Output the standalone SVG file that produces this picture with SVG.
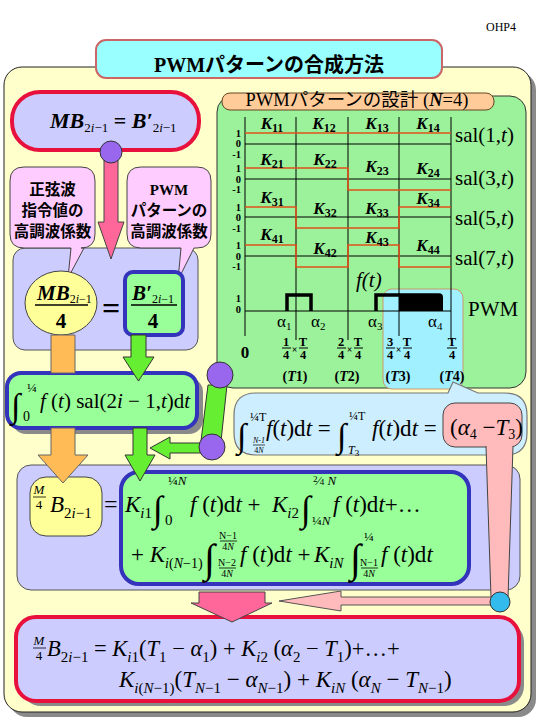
<svg xmlns="http://www.w3.org/2000/svg" width="540" height="720" viewBox="0 0 540 720">
<defs>
<style>
text { font-family: "Liberation Serif", "Noto Sans CJK JP", serif; fill:#000; }
.jp { font-family: "Noto Sans CJK JP", sans-serif; font-weight: bold; font-size: 15.5px; text-anchor: middle; }
.k { font-size: 17px; font-weight: bold; font-style: italic; text-anchor: middle; }
.ks { font-size: 12px; font-style: normal; }
.ax { font-size: 10.5px; font-weight: bold; text-anchor: end; }
.sal { font-size: 21px; }
.b { font-weight: bold; }
.it { font-style: italic; }
.u { font-style: normal; }
.m { font-size: 23px; font-style: italic; }
.int { font-size: 36px; font-style: normal; }
.sm { font-size: 10px; font-style: normal; text-anchor: middle; }
.fr { font-size: 12.5px; font-weight: bold; text-anchor: middle; }
.gl { stroke:#000; stroke-width:1; fill:none; }
.wv { stroke:#E0501A; stroke-width:1.6; fill:none; }
.shadow { fill:#8a8a8a; }
.lav { fill:#CCCCFF; stroke:#555; stroke-width:1; }
.pinkc { fill:#FFCCFF; stroke:#444; stroke-width:1; }
.bluebox { fill:#99FF99; stroke:#3333BB; stroke-width:4; }
.redbox { fill:#CCCCFF; stroke:#E8103C; stroke-width:4; }
.grn { fill:#66EE33; stroke:#333; stroke-width:1; }
.org { fill:#FFBB55; stroke:#666; stroke-width:1; }
.pur { fill:#9966EE; stroke:#333; stroke-width:1; }
</style>
</defs>

<g id="outer-panel">
  <rect class="shadow" x="9" y="72" width="527" height="645" rx="18"/>
  <rect x="4" y="67" width="527" height="645" rx="18" fill="#FFFFCC" stroke="#222" stroke-width="1"/>
</g>

<g id="title">
  <rect x="96" y="40" width="346" height="38" rx="10" fill="#99FFFF" stroke="#CC6666" stroke-width="2"/>
  <text x="269" y="72" font-size="20" font-weight="bold" text-anchor="middle">PWMパターンの合成方法</text>
</g>

<text id="page-label" x="486" y="31" font-size="12">OHP4</text>

<g id="top-equation">
  <rect class="redbox" x="12" y="92" width="187" height="58" rx="28"/>
  <text x="50" y="128" font-size="22" class="b it">MB<tspan font-size="13" font-weight="normal" class="u" dy="4">2<tspan class="it">i</tspan>−1</tspan><tspan dy="-4" class="u"> = </tspan>B′<tspan font-size="13" font-weight="normal" class="u" dy="4">2<tspan class="it">i</tspan>−1</tspan></text>
</g>

<g id="coef-panel">
  <rect class="lav" x="13" y="248" width="185" height="102" rx="12"/>
</g>

<g id="callout-sine">
  <path class="pinkc" d="M24,167 H81 Q95,167 95,181 V234 Q95,248 81,248 H84 L68,278 L71,248 H24 Q10,248 10,234 V181 Q10,167 24,167 Z"/>
  <text class="jp" x="52.5" y="195">正弦波</text>
  <text class="jp" x="52.5" y="216">指令値の</text>
  <text class="jp" x="52.5" y="237">高調波係数</text>
</g>

<g id="callout-pwm">
  <path class="pinkc" d="M141,167 H197 Q211,167 211,181 V234 Q211,248 197,248 H194 L178,280 L181,248 H141 Q127,248 127,234 V181 Q127,167 141,167 Z"/>
  <text x="169" y="195" font-size="15" font-weight="bold" text-anchor="middle">PWM</text>
  <text class="jp" x="169" y="216">パターンの</text>
  <text class="jp" x="169" y="237">高調波係数</text>
</g>

<g id="sine-coef">
  <ellipse cx="61" cy="303" rx="36" ry="32" fill="#FFFF99" stroke="#444" stroke-width="1"/>
  <text x="37" y="300" font-size="21" class="b it">MB<tspan font-size="12" font-weight="normal" class="u" dy="3">2<tspan class="it">i</tspan>−1</tspan></text>
  <line x1="35" y1="305" x2="88" y2="305" stroke="#000" stroke-width="1.5"/>
  <text x="61" y="328" font-size="21" font-weight="bold" text-anchor="middle">4</text>
</g>

<text id="equals" x="111" y="319" font-size="32" font-weight="bold" text-anchor="middle">=</text>

<g id="pwm-coef">
  <rect class="bluebox" x="125" y="272" width="58" height="63" rx="8"/>
  <text x="132" y="300" font-size="21" class="b it">B′<tspan font-size="12" font-weight="normal" class="u" dy="3">2<tspan class="it">i</tspan>−1</tspan></text>
  <line x1="131" y1="305" x2="177" y2="305" stroke="#000" stroke-width="1.5"/>
  <text x="153" y="328" font-size="21" font-weight="bold" text-anchor="middle">4</text>
</g>

<g id="pwm-design">
  <rect x="217" y="96" width="309" height="292" rx="16" fill="#9BF29B" stroke="#333" stroke-width="1"/>
  <rect x="222" y="93" width="272" height="17" rx="8" fill="#FFCC99" stroke="#664422" stroke-width="1"/>
  <text x="357" y="106" font-size="18.5" text-anchor="middle">PWMパターンの設計 (<tspan class="b it">N</tspan>=4)</text>
  <rect x="383" y="289" width="80" height="100" rx="9" fill="#A0F0FF" stroke="#CC9966" stroke-width="1"/>
  <path class="gl" d="M245,117 V336 M296,117 V340 M348,117 V340 M399,117 V336 M451,117 V340"/>
  <path class="gl" d="M245,144 H451 M245,179 H451 M245,217 H451 M245,256 H451 M245,311 H451"/>
  <path class="wv" d="M245,133 H451"/>
  <path class="wv" d="M245,168 H348 V190 H451"/>
  <path class="wv" d="M245,207 H296 V228 H399 V207 H451"/>
  <path class="wv" d="M245,245 H296 V267 H348 V245 H399 V267 H451"/>
  <path d="M287,311 V295 H311 V311" stroke="#000" stroke-width="3.5" fill="none"/>
  <path d="M376,311 V295 H400" stroke="#000" stroke-width="3.5" fill="none"/>
  <path d="M399,293.3 H439 Q443,293.3 443,297.3 V311 H399 Z" fill="#000"/>
  <g class="ax">
    <text x="241" y="136.5">1</text><text x="241" y="147">0</text><text x="241" y="157.5">-1</text>
    <text x="241" y="172">1</text><text x="241" y="182.5">0</text><text x="241" y="193">-1</text>
    <text x="241" y="210.5">1</text><text x="241" y="221">0</text><text x="241" y="231.5">-1</text>
    <text x="241" y="249">1</text><text x="241" y="259.5">0</text><text x="241" y="270">-1</text>
    <text x="241" y="302">1</text><text x="241" y="313">0</text>
  </g>
  <text class="k" x="272" y="129">K<tspan class="ks" dy="3">11</tspan></text>
  <text class="k" x="324" y="129">K<tspan class="ks" dy="3">12</tspan></text>
  <text class="k" x="377" y="129">K<tspan class="ks" dy="3">13</tspan></text>
  <text class="k" x="428" y="129">K<tspan class="ks" dy="3">14</tspan></text>
  <text class="k" x="272" y="165">K<tspan class="ks" dy="3">21</tspan></text>
  <text class="k" x="325" y="165">K<tspan class="ks" dy="3">22</tspan></text>
  <text class="k" x="377" y="172">K<tspan class="ks" dy="3">23</tspan></text>
  <text class="k" x="428" y="174">K<tspan class="ks" dy="3">24</tspan></text>
  <text class="k" x="272" y="203">K<tspan class="ks" dy="3">31</tspan></text>
  <text class="k" x="325" y="214">K<tspan class="ks" dy="3">32</tspan></text>
  <text class="k" x="377" y="214">K<tspan class="ks" dy="3">33</tspan></text>
  <text class="k" x="428" y="204">K<tspan class="ks" dy="3">34</tspan></text>
  <text class="k" x="272" y="240">K<tspan class="ks" dy="3">41</tspan></text>
  <text class="k" x="325" y="254">K<tspan class="ks" dy="3">42</tspan></text>
  <text class="k" x="377" y="243">K<tspan class="ks" dy="3">43</tspan></text>
  <text class="k" x="428" y="251">K<tspan class="ks" dy="3">44</tspan></text>
  <text class="sal" x="455" y="142">sal(1,<tspan class="it">t</tspan>)</text>
  <text class="sal" x="455" y="185">sal(3,<tspan class="it">t</tspan>)</text>
  <text class="sal" x="455" y="225">sal(5,<tspan class="it">t</tspan>)</text>
  <text class="sal" x="455" y="265">sal(7,<tspan class="it">t</tspan>)</text>
  <text x="356" y="287" font-size="21" class="it">f(t)</text>
  <text x="468" y="316" font-size="21">PWM</text>
  <text x="277" y="327" font-size="17">α<tspan font-size="11" dy="3">1</tspan></text>
  <text x="311" y="327" font-size="17">α<tspan font-size="11" dy="3">2</tspan></text>
  <text x="368" y="327" font-size="17">α<tspan font-size="11" dy="3">3</tspan></text>
  <text x="428" y="327" font-size="17">α<tspan font-size="11" dy="3">4</tspan></text>
  <text x="245" y="358" font-size="17" font-weight="bold" text-anchor="middle">0</text>
  <g class="fr">
    <text x="286" y="346">1</text><text x="286" y="359">4</text><text x="294.5" y="353" font-size="10">×</text><text x="303" y="346">T</text><text x="303" y="359">4</text>
    <text x="341" y="346">2</text><text x="341" y="359">4</text><text x="349.5" y="353" font-size="10">×</text><text x="358" y="346">T</text><text x="358" y="359">4</text>
    <text x="390" y="346">3</text><text x="390" y="359">4</text><text x="398.5" y="353" font-size="10">×</text><text x="407" y="346">T</text><text x="407" y="359">4</text>
    <text x="452" y="346">T</text><text x="452" y="359">4</text>
  </g>
  <path d="M282,348 H291 M299,348 H308 M337,348 H346 M354,348 H363 M386,348 H395 M403,348 H412 M447,348 H457" stroke="#000" stroke-width="1"/>
  <g font-size="14" font-weight="bold" text-anchor="middle">
    <text x="295" y="381">(<tspan class="it">T</tspan>1)</text>
    <text x="347" y="381">(<tspan class="it">T</tspan>2)</text>
    <text x="398" y="381">(<tspan class="it">T</tspan>3)</text>
    <text x="452" y="381">(<tspan class="it">T</tspan>4)</text>
  </g>
</g>

<g id="integral-callout">
  <path d="M256,393 H448 L453,382 L478,393 H505 Q527,393 527,415 V433 Q527,455 505,455 H256 Q234,455 234,433 V415 Q234,393 256,393 Z" fill="#CCEEFF" stroke="#777" stroke-width="1.2"/>
  <text class="int" x="237" y="447" style="font-size:34px">∫</text>
  <text x="250" y="421" font-size="12">¼T</text>
  <text class="sm" x="259" y="443" style="font-size:8px;font-style:italic">N-1</text>
  <line x1="253" y1="445" x2="265" y2="445" stroke="#000" stroke-width="0.7"/>
  <text class="sm" x="259" y="453" style="font-size:8px">4<tspan class="it">N</tspan></text>
  <text class="m" x="266" y="436">f<tspan class="u">(</tspan>t<tspan class="u">)d</tspan>t<tspan class="u"> =</tspan></text>
  <text class="int" x="337" y="447" style="font-size:34px">∫</text>
  <text x="349" y="420" font-size="12">¼T</text>
  <text x="348" y="454" font-size="12" class="it">T<tspan font-size="9" class="u" dy="2">3</tspan></text>
  <text class="m" x="372" y="436">f<tspan class="u">(</tspan>t<tspan class="u">)d</tspan>t<tspan class="u"> =</tspan></text>
</g>

<g id="difference">
  <rect x="443" y="403" width="79" height="44" rx="12" fill="#FFBBBB" stroke="#444" stroke-width="1"/>
  <text x="450" y="435" font-size="23"><tspan>(</tspan><tspan class="it">α</tspan><tspan font-size="14" dy="4">4</tspan><tspan dy="-4"> −</tspan><tspan class="it">T</tspan><tspan font-size="14" dy="4">3</tspan><tspan dy="-4">)</tspan></text>
</g>

<g id="expansion-panel">
  <rect class="lav" x="17" y="465" width="503" height="125" rx="14"/>
</g>

<g id="lhs">
  <rect x="30" y="477" width="72" height="59" rx="16" fill="#FFFF99" stroke="#444" stroke-width="1"/>
  <text x="39" y="494" font-size="13" class="it" text-anchor="middle">M</text>
  <line x1="33" y1="497" x2="46" y2="497" stroke="#000" stroke-width="0.8"/>
  <text x="39" y="509" font-size="13" text-anchor="middle">4</text>
  <text x="50" y="512" font-size="23" class="it">B<tspan font-size="15" class="u" dy="6">2<tspan class="it">i</tspan>−1</tspan></text>
</g>

<text id="equals2" x="104" y="512" font-size="24">=</text>

<g id="expansion">
  <rect class="bluebox" x="121" y="472" width="348" height="112" rx="18"/>
  <text class="m" x="125" y="512">K<tspan font-size="15" dy="6">i</tspan><tspan font-size="15" class="u">1</tspan></text>
  <text class="int" x="153" y="521">∫</text>
  <text x="168" y="485" font-size="13">¼<tspan class="it">N</tspan></text>
  <text x="165" y="525" font-size="15">0</text>
  <text class="m" x="190" y="512">f<tspan class="u"> (</tspan>t<tspan class="u">)d</tspan>t<tspan class="u"> +</tspan></text>
  <text class="m" x="272" y="512">K<tspan font-size="15" dy="6">i</tspan><tspan font-size="15" class="u">2</tspan></text>
  <text class="int" x="301" y="521">∫</text>
  <text x="313" y="485" font-size="13"><tspan font-size="9" dy="-3">2</tspan><tspan dy="3">⁄</tspan><tspan font-size="9">4</tspan><tspan class="it"> N</tspan></text>
  <text x="312" y="525" font-size="13">¼<tspan class="it">N</tspan></text>
  <text class="m" x="333" y="512">f<tspan class="u"> (</tspan>t<tspan class="u">)d</tspan>t<tspan class="u">+…</tspan></text>

  <text class="m" x="131" y="562"><tspan class="u">+ </tspan>K<tspan font-size="14" dy="6">i</tspan><tspan font-size="14" class="u">(</tspan><tspan font-size="14">N</tspan><tspan font-size="14" class="u">−1)</tspan></text>
  <text class="int" x="204" y="572" style="font-size:40px">∫</text>
  <text class="sm it" x="228" y="539">N<tspan class="u">−1</tspan></text>
  <line x1="220" y1="541" x2="237" y2="541" stroke="#000" stroke-width="0.8"/>
  <text class="sm" x="228" y="550">4<tspan class="it">N</tspan></text>
  <text class="sm it" x="227" y="566">N<tspan class="u">−2</tspan></text>
  <line x1="219" y1="568" x2="236" y2="568" stroke="#000" stroke-width="0.8"/>
  <text class="sm" x="227" y="577">4<tspan class="it">N</tspan></text>
  <text class="m" x="240" y="562">f<tspan class="u"> (</tspan>t<tspan class="u">)d</tspan>t<tspan class="u"> +</tspan></text>
  <text class="m" x="314" y="562">K<tspan font-size="15" dy="6">iN</tspan></text>
  <text class="int" x="350" y="572" style="font-size:40px">∫</text>
  <text x="364" y="541" font-size="13">¼</text>
  <text class="sm it" x="369" y="566">N<tspan class="u">−1</tspan></text>
  <line x1="361" y1="568" x2="378" y2="568" stroke="#000" stroke-width="0.8"/>
  <text class="sm" x="369" y="577">4<tspan class="it">N</tspan></text>
  <text class="m" x="381" y="562">f<tspan class="u"> (</tspan>t<tspan class="u">)d</tspan>t</text>
</g>

<g id="integral">
  <rect class="shadow" x="12" y="378" width="191" height="56" rx="14"/>
  <rect class="bluebox" x="7" y="373" width="190" height="55" rx="14"/>
  <text class="int" x="11" y="417" style="font-size:34px">∫</text>
  <text x="27" y="392" font-size="13">¼</text>
  <text x="23" y="421" font-size="14">0</text>
  <text class="m" x="40" y="408" style="font-size:21px">f<tspan class="u"> (</tspan>t<tspan class="u">) sal(2</tspan>i<tspan class="u"> − 1,</tspan>t<tspan class="u">)d</tspan>t</text>
</g>

<g id="result">
  <rect class="shadow" x="21" y="622" width="503" height="84" rx="20"/>
  <rect class="redbox" x="16" y="617" width="503" height="84" rx="20"/>
  <text x="39" y="645" font-size="13" class="it" text-anchor="middle">M</text>
  <line x1="33" y1="648" x2="46" y2="648" stroke="#000" stroke-width="0.8"/>
  <text x="39" y="660" font-size="13" text-anchor="middle">4</text>
  <text class="m" x="47" y="656" style="font-size:22.5px">B<tspan font-size="15" class="u" dy="6">2<tspan class="it">i</tspan>−1</tspan><tspan class="u" dy="-6"> = </tspan>K<tspan font-size="15" dy="6">i</tspan><tspan font-size="15" class="u">1</tspan><tspan class="u" dy="-6">(</tspan>T<tspan font-size="15" class="u" dy="6">1</tspan><tspan class="u" dy="-6"> − </tspan>α<tspan font-size="15" class="u" dy="6">1</tspan><tspan class="u" dy="-6">) + </tspan>K<tspan font-size="15" dy="6">i</tspan><tspan font-size="15" class="u">2</tspan><tspan class="u" dy="-6"> (</tspan>α<tspan font-size="15" class="u" dy="6">2</tspan><tspan class="u" dy="-6"> − </tspan>T<tspan font-size="15" class="u" dy="6">1</tspan><tspan class="u" dy="-6">)+…+</tspan></text>
  <text class="m" x="119" y="687">K<tspan font-size="15" dy="6">i</tspan><tspan font-size="15" class="u">(</tspan><tspan font-size="15">N</tspan><tspan font-size="15" class="u">−1)</tspan><tspan class="u" dy="-6">(</tspan>T<tspan font-size="15" dy="6">N</tspan><tspan font-size="15" class="u">−1</tspan><tspan class="u" dy="-6"> − </tspan>α<tspan font-size="15" dy="6">N</tspan><tspan font-size="15" class="u">−1</tspan><tspan class="u" dy="-6">) + </tspan>K<tspan font-size="15" dy="6">iN</tspan><tspan class="u" dy="-6"> (</tspan>α<tspan font-size="15" dy="6">N</tspan><tspan class="u" dy="-6"> − </tspan>T<tspan font-size="15" dy="6">N</tspan><tspan font-size="15" class="u">−1</tspan><tspan class="u" dy="-6">)</tspan></text>
</g>

<g id="connectors">
  <polygon points="104,160 118,160 118,222 124,222 111,259 98,222 104,222" fill="#FF6699" stroke="#444" stroke-width="1"/>
  <circle class="pur" cx="111" cy="152" r="11"/>
  <path class="org" d="M51,335 H75 V373 H51 Z M51,428 H75 V455 H88 L63,483 L38,455 H51 Z"/>
  <polygon class="grn" points="131,335 146,335 146,357 154,357 138.5,381 123,357 131,357"/>
  <polygon class="grn" points="133,428 147,428 147,455 155,455 140,481 125,455 133,455"/>
  <polygon class="grn" points="208,385 227,385 221,441 201,441"/>
  <polygon class="grn" points="208,443 170,443 170,437 150,448 170,459 170,453 208,453"/>
  <circle class="pur" cx="220" cy="375" r="13"/>
  <circle class="pur" cx="212" cy="447" r="13"/>
  <polygon points="486,444 513,444 508,598 491,598" fill="#FFBBBB"/>
  <path d="M486,446 L491,598 M513,446 L508,598" stroke="#444" stroke-width="1" fill="none"/>
  <polygon points="495,597 341,597 341,591 279,601 341,611 341,605 495,605" fill="#FFBBBB" stroke="#555" stroke-width="1"/>
  <circle cx="500" cy="602" r="10" fill="#33BBEE" stroke="#333" stroke-width="1"/>
  <polygon points="199,592 265,592 265,603 272,603 232,622 191,603 199,603" fill="#FF6699" stroke="#444" stroke-width="1"/>
</g>
</svg>
